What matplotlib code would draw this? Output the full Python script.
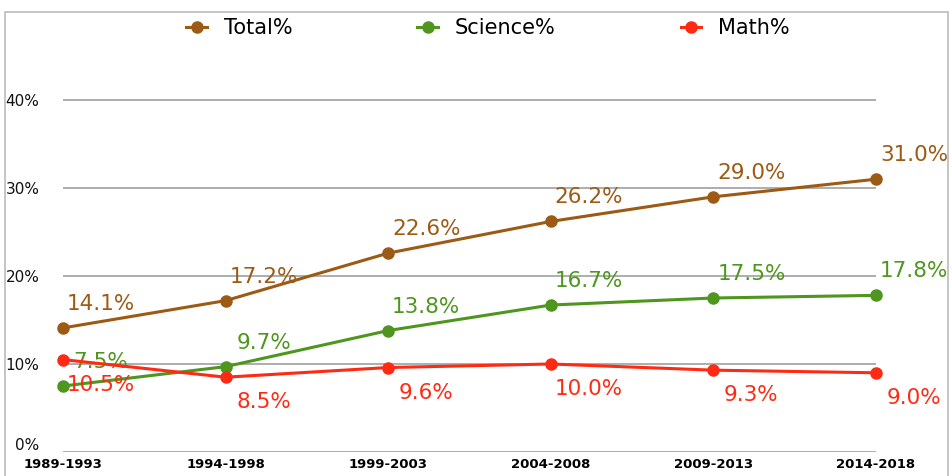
import matplotlib.pyplot as plt
import matplotlib.transforms as mtransforms
from matplotlib.patches import Rectangle

periods = ['1989-1993', '1994-1998', '1999-2003', '2004-2008', '2009-2013', '2014-2018']
total = [14.1, 17.2, 22.6, 26.2, 29.0, 31.0]
science = [7.5, 9.7, 13.8, 16.7, 17.5, 17.8]
math = [10.5, 8.5, 9.6, 10.0, 9.3, 9.0]

c_total = '#9C5A14'
c_science = '#4E961E'
c_math = '#FF2A14'

fig = plt.figure(figsize=(9.52, 4.76), dpi=100)
ax = fig.add_axes([63 / 952, 24 / 476, 813 / 952, 396 / 476])

x = list(range(len(periods)))
series = [('Total%', total, c_total, 'above'),
          ('Science%', science, c_science, 'above'),
          ('Math%', math, c_math, 'below')]

for name, vals, col, pos in series:
    ax.plot(x, vals, color=col, lw=2.2, marker='o', ms=8, label=name, clip_on=False, zorder=3)
    for xi, v in zip(x, vals):
        dy = 24 if pos == 'above' else -25
        ax.annotate(f'{v:.1f}%', (xi, v), xytext=(38 * 0.72, dy * 0.72), textcoords='offset points',
                    ha='center', va='center', color=col, fontsize=15.5, annotation_clip=False)

ax.set_xlim(0, 5)
ax.set_ylim(0, 45)
ax.set_yticks([0, 10, 20, 30, 40])
ax.set_yticklabels(['0%', '10%', '20%', '30%', '40%'], fontsize=11)
ax.set_xticks(x)
ax.set_xticklabels(periods, fontsize=9.5, fontweight='bold')
ax.tick_params(axis='y', length=0, pad=17, labelcolor='#111111')
ax.tick_params(axis='x', length=0, pad=4)
ax.grid(axis='y', color='#A0A0A0', lw=1.2)
ax.set_axisbelow(True)
for s in ax.spines.values():
    s.set_visible(False)

# nudge the 0% label up so it clears the period labels
fig.canvas.draw()
zero_lbl = ax.get_yticklabels()[0]
zero_lbl.set_transform(zero_lbl.get_transform() + mtransforms.ScaledTranslation(0, 6 / 72, fig.dpi_scale_trans))

fig.legend(loc='center', bbox_to_anchor=(488 / 952, 1 - 28 / 476), ncol=3, frameon=False,
           fontsize=15, handlelength=1.0, handletextpad=0.8, columnspacing=6.0)

fig.patches.append(Rectangle((5 / 952, -0.1), 943 / 952, 1.1 - 12 / 476, transform=fig.transFigure,
                             fill=False, edgecolor='#BBBBBB', lw=1.2))

fig.savefig('out.png', dpi=100)
